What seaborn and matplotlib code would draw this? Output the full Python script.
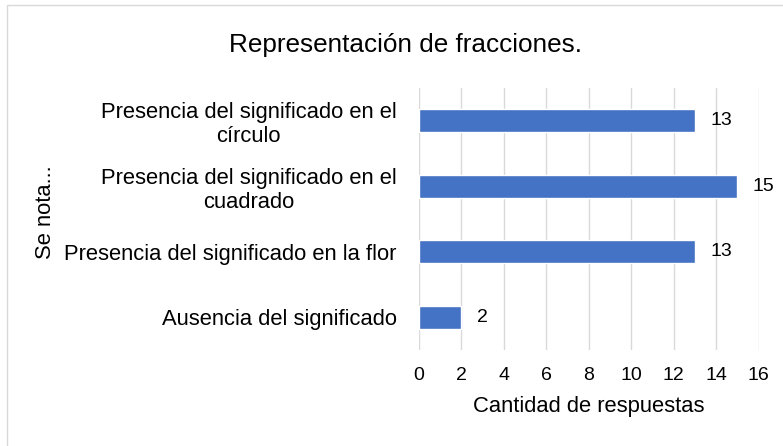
import pandas as pd
import seaborn as sns
import matplotlib.pyplot as plt
from matplotlib.patches import Rectangle

categorias = [
    "Presencia del significado en el\ncírculo",
    "Presencia del significado en el\ncuadrado",
    "Presencia del significado en la flor",
    "Ausencia del significado",
]
respuestas = [13, 15, 13, 2]
ticks_x = [0, 2, 4, 6, 8, 10, 12, 14, 16]

df = pd.DataFrame({"Categoria": categorias, "Respuestas": respuestas})

sns.set_style("white")
plt.rcParams["font.family"] = ["Liberation Sans", "DejaVu Sans"]

fig = plt.figure(figsize=(7.83, 4.46), dpi=100)
ax = fig.add_axes([0.535, 0.215, 0.434, 0.588])
sns.barplot(data=df, y="Categoria", x="Respuestas", color="#4472C4",
            saturation=1, width=0.35, orient="h", ax=ax, zorder=3)

for c in ax.containers:
    ax.bar_label(c, padding=11, fontsize=14, color="black")

ax.set_xlim(0, 16)
ax.set_xticks(ticks_x)
ax.grid(axis="x", color="#D9D9D9", linewidth=1, zorder=0)
for s in ax.spines.values():
    s.set_visible(False)
ax.tick_params(axis="x", labelsize=14, length=0, pad=12, colors="black")
ax.tick_params(axis="y", labelsize=15.8, length=0, pad=16, colors="black")
for lbl in ax.get_yticklabels():
    lbl.set_horizontalalignment("right")
    lbl.set_multialignment("center")
ax.set_xlabel("Cantidad de respuestas", fontsize=15.8, color="black", labelpad=9)
ax.set_ylabel("")
fig.text(0.058, 0.525, "Se nota...", rotation=90, fontsize=15.8, color="black",
         ha="center", va="center")
fig.text(0.518, 0.9, "Representación de fracciones.", fontsize=18.8, color="black",
         ha="center", va="center")

fig.patches.append(Rectangle((0.009, -0.01), 1.0, 0.999, transform=fig.transFigure,
                             fill=False, edgecolor="#D9D9D9", linewidth=1))

plt.savefig("out.png", dpi=100)
plt.close()
